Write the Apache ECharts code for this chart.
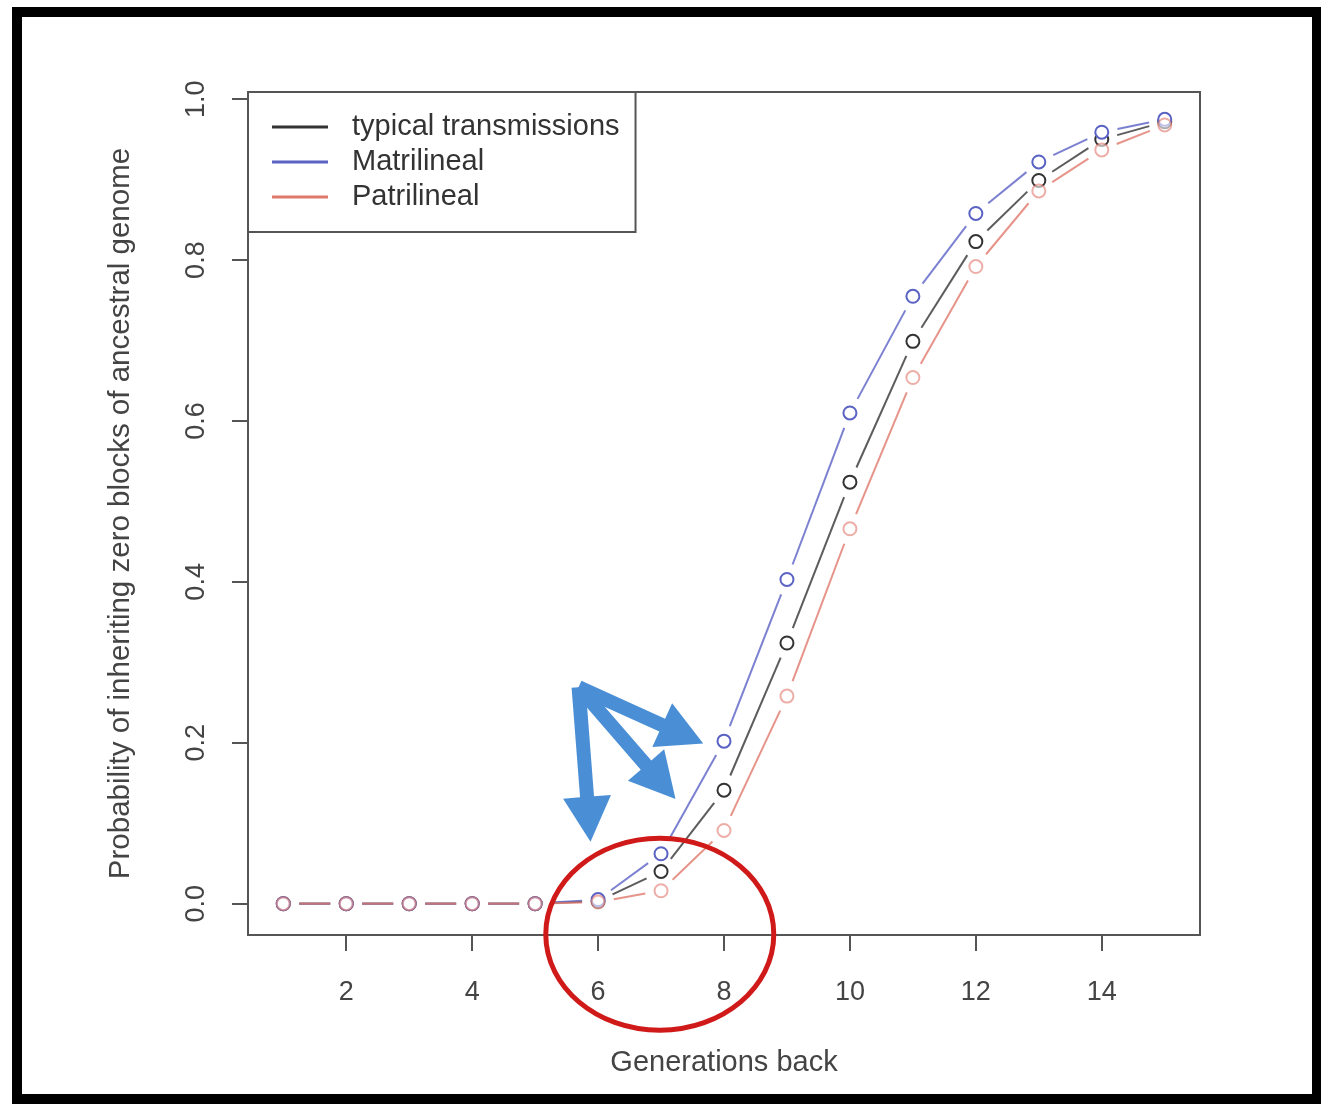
<!DOCTYPE html>
<html>
<head>
<meta charset="utf-8">
<script src="https://cdn.jsdelivr.net/npm/echarts@6/dist/echarts.min.js"></script>
<style>
html,body{margin:0;padding:0;background:#fff;}
#chart{width:1321px;height:1105px;}
</style>
</head>
<body>
<div id="chart"></div>
<script>
// ---- data ----
const generations = [1,2,3,4,5,6,7,8,9,10,11,12,13,14,15];
const typicalValues = [0,0,0,0,0,0.003,0.040,0.141,0.324,0.524,0.699,0.823,0.899,0.950,0.972];
const matrilinealValues = [0,0,0,0,0,0.005,0.062,0.202,0.403,0.610,0.755,0.858,0.922,0.959,0.975];
const patrilinealValues = [0,0,0,0,0,0.002,0.016,0.091,0.258,0.466,0.654,0.792,0.886,0.937,0.968];
const seriesNames = ['typical transmissions','Matrilineal','Patrilineal'];
const xTickValues = [2,4,6,8,10,12,14];
const yTickValues = [0,0.2,0.4,0.6,0.8,1.0];
// annotation anchors (data coordinates)
const arrowOrigin = [5.69, 0.269];
const arrowTips = [[7.67,0.199],[7.23,0.130],[5.88,0.077]];
const circleCenter = [6.98, -0.038];

const colors = ['#333333','#5a62c4','#e0786c'];
const FONT = '"Liberation Sans", Arial, Helvetica, sans-serif';
const GAP = 16;

function pairs(vals){
  const out=[];
  for(let i=0;i<generations.length-1;i++){
    out.push([generations[i],vals[i],generations[i+1],vals[i+1]]);
  }
  return out;
}
function lineSeries(name,color,vals,opacity){
  return {
    name:name, type:'custom', coordinateSystem:'cartesian2d',
    encode:{x:[0,2],y:[1,3]},
    data:pairs(vals),
    silent:true, z:2,
    renderItem:function(params,api){
      const p1=api.coord([api.value(0),api.value(1)]);
      const p2=api.coord([api.value(2),api.value(3)]);
      const dx=p2[0]-p1[0], dy=p2[1]-p1[1];
      const L=Math.hypot(dx,dy);
      if(L<=2*GAP) return {type:'group',children:[]};
      const ux=dx/L, uy=dy/L;
      return {type:'line',shape:{x1:p1[0]+ux*GAP,y1:p1[1]+uy*GAP,x2:p2[0]-ux*GAP,y2:p2[1]-uy*GAP},
        style:{stroke:color,lineWidth:2,opacity:opacity}};
    }
  };
}
function pointSeries(name,color,vals,opacity){
  return {
    name:name, type:'scatter', symbol:'emptyCircle', symbolSize:13,
    data:generations.map((g,i)=>[g,vals[i]]),
    itemStyle:{color:color,borderColor:color,borderWidth:2.5,opacity:opacity},
    silent:true, z:3
  };
}

const chart = echarts.init(document.getElementById('chart'), null, {renderer:'canvas'});
const option = {
  backgroundColor:'#fff',
  animation:false,
  grid:{left:248,top:92,right:121,bottom:170,show:true,borderColor:'#555',borderWidth:2,backgroundColor:'transparent'},
  xAxis:{
    type:'value', min:0.44, max:15.56,
    name:'Generations back', nameLocation:'middle', nameGap:113,
    nameTextStyle:{fontFamily:FONT,fontSize:29,color:'#444'},
    axisLine:{show:false,onZero:false},
    axisTick:{show:true,inside:false,length:16,customValues:xTickValues,lineStyle:{color:'#555',width:2}},
    axisLabel:{show:true,customValues:xTickValues,margin:44,fontFamily:FONT,fontSize:27,color:'#444'},
    splitLine:{show:false}
  },
  yAxis:{
    type:'value', min:-0.039, max:1.009,
    name:'Probability of inheriting zero blocks of ancestral genome', nameLocation:'middle', nameGap:112, nameRotate:90,
    nameTextStyle:{fontFamily:FONT,fontSize:29.5,color:'#444'},
    axisLine:{show:false,onZero:false},
    axisTick:{show:true,inside:false,length:16,customValues:yTickValues,lineStyle:{color:'#555',width:2}},
    axisLabel:{show:true,customValues:yTickValues,rotate:90,margin:38,fontFamily:FONT,fontSize:27,color:'#444',
      formatter:function(v){return v.toFixed(1);}},
    splitLine:{show:false}
  },
  legend:{
    orient:'vertical', left:248, top:92,
    padding:[20,16,20,24], itemGap:5, itemWidth:56, itemHeight:3,
    borderColor:'#555', borderWidth:2, backgroundColor:'#fff',
    selectedMode:false,
    textStyle:{fontFamily:FONT,fontSize:29,color:'#333',lineHeight:30,padding:[0,0,0,19]},
    data:seriesNames.map((n,i)=>({name:n,icon:'rect',itemStyle:{color:colors[i],borderWidth:0}}))
  },
  series:[
    lineSeries(seriesNames[0],colors[0],typicalValues,0.8),
    lineSeries(seriesNames[1],colors[1],matrilinealValues,0.8),
    lineSeries(seriesNames[2],colors[2],patrilinealValues,0.8),
    pointSeries(seriesNames[0],colors[0],typicalValues,1),
    pointSeries(seriesNames[1],colors[1],matrilinealValues,1),
    pointSeries(seriesNames[2],colors[2],patrilinealValues,0.6)
  ]
};
chart.setOption(option);

// annotations
function toPx(p){return chart.convertToPixel({gridIndex:0},p);}
function arrowPoly(S,T){
  const dx=T[0]-S[0], dy=T[1]-S[1]; const L=Math.hypot(dx,dy);
  const ux=dx/L, uy=dy/L, nx=-uy, ny=ux;
  const w=7, h=45, hw=24;
  const B=[T[0]-ux*h,T[1]-uy*h];
  return [[S[0]+nx*w,S[1]+ny*w],[B[0]+nx*w,B[1]+ny*w],[B[0]+nx*hw,B[1]+ny*hw],T,
          [B[0]-nx*hw,B[1]-ny*hw],[B[0]-nx*w,B[1]-ny*w],[S[0]-nx*w,S[1]-ny*w]];
}
const O=toPx(arrowOrigin);
const gfx=[];
arrowTips.forEach(t=>{
  gfx.push({type:'polygon',shape:{points:arrowPoly(O,toPx(t))},style:{fill:'#4a8fd6'},z:50,silent:true});
});
const C=toPx(circleCenter);
gfx.push({type:'ellipse',shape:{cx:C[0],cy:C[1],rx:114,ry:96},style:{fill:'none',stroke:'#d01a1a',lineWidth:5},z:50,silent:true});
gfx.push({type:'rect',shape:{x:17,y:12,width:1300,height:1087},style:{fill:'none',stroke:'#000',lineWidth:10},z:60,silent:true});
chart.setOption({graphic:gfx});
</script>
</body>
</html>
